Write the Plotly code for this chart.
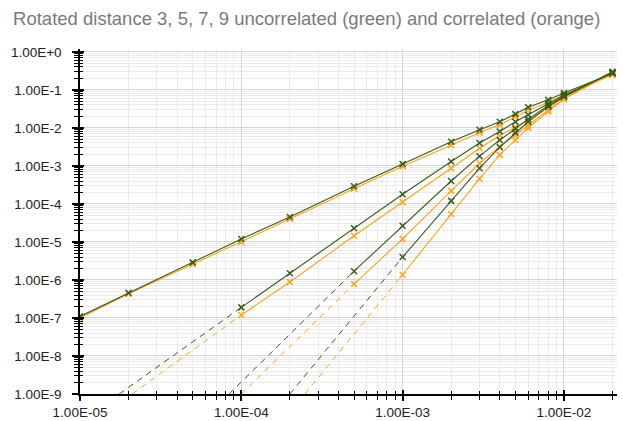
import plotly.graph_objects as go

# ---- data ----
x_all = [1e-5, 2e-5, 5e-5, 1e-4, 2e-4, 5e-4, 1e-3, 2e-3, 3e-3, 4e-3, 5e-3, 6e-3, 8e-3, 1e-2, 2e-2]

d3_unc = [1.1e-7, 4.6e-7, 2.9e-6, 1.2e-5, 4.5e-5, 2.9e-4, 1.12e-3, 4.3e-3, 8.9e-3, 1.45e-2, 2.3e-2, 3.5e-2, 5.5e-2, 8.2e-2, 0.27]
d3_cor = [1.0e-7, 4.3e-7, 2.6e-6, 1.0e-5, 4.0e-5, 2.5e-4, 9.8e-4, 3.5e-3, 7.5e-3, 1.2e-2, 1.95e-2, 2.9e-2, 4.7e-2, 7.4e-2, 0.25]
d5_unc = [1.9e-7, 1.5e-6, 2.3e-5, 1.8e-4, 1.3e-3, 4.0e-3, 8.0e-3, 1.45e-2, 2.2e-2, 4.4e-2, 7.2e-2, 0.28]
d5_cor = [1.2e-7, 8.8e-7, 1.45e-5, 1.1e-4, 8.7e-4, 2.9e-3, 6.3e-3, 1.05e-2, 1.6e-2, 3.6e-2, 6.5e-2, 0.26]
d7_unc = [1.7e-6, 2.65e-5, 4.0e-4, 1.8e-3, 4.8e-3, 9.5e-3, 1.7e-2, 3.9e-2, 6.8e-2, 0.29]
d7_cor = [7.8e-7, 1.2e-5, 2.2e-4, 1.17e-3, 3.2e-3, 6.3e-3, 1.15e-2, 3.0e-2, 6.0e-2, 0.27]
d9_unc = [4.0e-6, 1.2e-4, 8.7e-4, 3.1e-3, 7.5e-3, 1.45e-2, 3.6e-2, 6.6e-2, 0.30]
d9_cor = [1.37e-6, 5.4e-5, 4.6e-4, 1.95e-3, 4.8e-3, 1.0e-2, 2.7e-2, 5.7e-2, 0.28]

# extrapolated (dashed) lines: x where they reach the floor value
dash_floor = 1e-9
dash_x_unc = [1.75e-5, 8.4e-5, 2.0e-4]   # d5, d7, d9
dash_x_cor = [2.1e-5, 1.0e-4, 2.48e-4]

x_ticks = [1e-5, 1e-4, 1e-3, 1e-2]
x_ticktext = ["1.00E-05", "1.00E-04", "1.00E-03", "1.00E-02"]
y_ticks = [1e0, 1e-1, 1e-2, 1e-3, 1e-4, 1e-5, 1e-6, 1e-7, 1e-8, 1e-9]
y_ticktext = ["1.00E+0", "1.00E-1", "1.00E-2", "1.00E-3", "1.00E-4",
              "1.00E-5", "1.00E-6", "1.00E-7", "1.00E-8", "1.00E-9"]

title = "Rotated distance 3, 5, 7, 9 uncorrelated (green) and correlated (orange)"

GREEN = "#3a5c1c"
ORANGE = "#ffa31a"

fig = go.Figure()

series = [
    (d3_cor, ORANGE), (d5_cor, ORANGE), (d7_cor, ORANGE), (d9_cor, ORANGE),
    (d3_unc, GREEN), (d5_unc, GREEN), (d7_unc, GREEN), (d9_unc, GREEN),
]

# dashed extrapolations
for ys, xs0, col in [((d5_cor, d7_cor, d9_cor), dash_x_cor, ORANGE),
                      ((d5_unc, d7_unc, d9_unc), dash_x_unc, GREEN)]:
    for yv, x0 in zip(ys, xs0):
        n = len(yv)
        x_first = x_all[len(x_all) - n]
        fig.add_trace(go.Scatter(x=[x0, x_first], y=[dash_floor, yv[0]], mode="lines",
                                 line=dict(color=col, width=1, dash="6px,5px"),
                                 hoverinfo="skip", showlegend=False))

for yv, col in series:
    xs = x_all[len(x_all) - len(yv):]
    fig.add_trace(go.Scatter(x=xs, y=yv, mode="lines+markers",
                             line=dict(color=col, width=1.1),
                             marker=dict(symbol="x-thin", size=6, color=col,
                                         line=dict(color=col, width=1.5)),
                             showlegend=False))

minor_x = [m * 10 ** e for e in range(-5, -1) for m in range(2, 10)]
minor_y = [m * 10 ** e for e in range(-9, 0) for m in range(2, 10)]

fig.update_layout(
    width=623, height=421,
    margin=dict(l=80, r=6, t=49, b=27, autoexpand=False),
    paper_bgcolor="white", plot_bgcolor="white",
    font=dict(family="Liberation Sans, Arial, sans-serif", size=13, color="#222222"),
    title=dict(text=title, x=0.021, xanchor="left", y=0.955, yanchor="middle",
               font=dict(size=18.5, color="#7a7a7a")),
    showlegend=False,
    xaxis=dict(type="log", range=[-5, -1.671], tickvals=x_ticks, ticktext=x_ticktext,
               showline=True, linecolor="black", linewidth=1.5,
               ticks="outside", ticklen=5, tickwidth=1.5, tickcolor="black",
               showgrid=True, gridcolor="#d6d6d6", gridwidth=1.3,
               zeroline=False, tickfont=dict(size=13.5), automargin=False,
               minor=dict(tickvals=minor_x, ticks="outside", ticklen=4, tickwidth=1,
                          tickcolor="black", showgrid=True, gridcolor="#ebebeb", gridwidth=1)),
    yaxis=dict(type="log", range=[-9, 0.074], tickvals=y_ticks, ticktext=y_ticktext,
               showline=True, linecolor="black", linewidth=1.5,
               ticks="outside", ticklen=6, tickwidth=1.5, tickcolor="black",
               ticklabelstandoff=8,
               showgrid=True, gridcolor="#d6d6d6", gridwidth=1.3,
               zeroline=False, tickfont=dict(size=13.5), automargin=False,
               minor=dict(tickvals=minor_y, ticks="outside", ticklen=4, tickwidth=1,
                          tickcolor="black", showgrid=True, gridcolor="#ebebeb", gridwidth=1)),
    xaxis2=dict(type="log", range=[-5, -1.671], overlaying="x", side="bottom",
                tickvals=x_ticks, showticklabels=False, showline=False, showgrid=False,
                ticks="inside", ticklen=4, tickwidth=1.5, tickcolor="black", zeroline=False,
                minor=dict(tickvals=minor_x, ticks="inside", ticklen=3, tickwidth=1,
                           tickcolor="black", showgrid=False)),
    yaxis2=dict(type="log", range=[-9, 0.074], overlaying="y", side="left",
                tickvals=y_ticks, showticklabels=False, showline=False, showgrid=False,
                ticks="inside", ticklen=4, tickwidth=1.5, tickcolor="black", zeroline=False,
                minor=dict(tickvals=minor_y, ticks="inside", ticklen=3, tickwidth=1,
                           tickcolor="black", showgrid=False)),
)

# dummy trace to activate overlay axes
fig.add_trace(go.Scatter(x=[1e-5], y=[1e-9], xaxis="x2", yaxis="y2", mode="markers",
                         marker=dict(size=1, opacity=0), hoverinfo="skip", showlegend=False))

fig.write_html("out.html", config={"displayModeBar": False},
               post_script="document.body.style.margin='0px';document.body.style.overflow='hidden';")
